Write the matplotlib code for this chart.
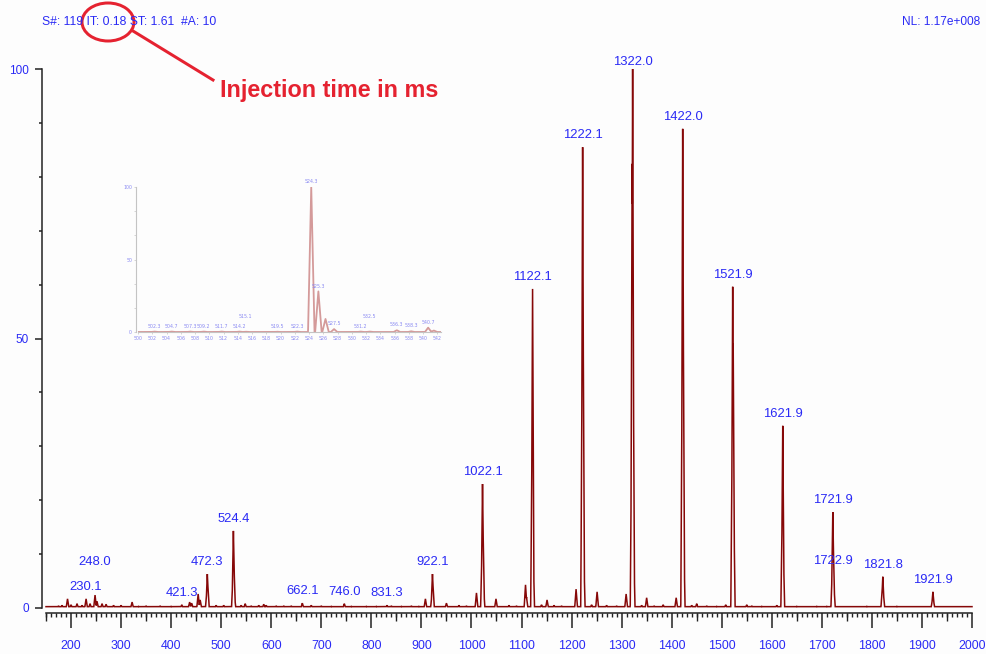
import numpy as np
import matplotlib
matplotlib.use("Agg")
import matplotlib.pyplot as plt
from matplotlib import font_manager
from matplotlib.patches import Ellipse
from matplotlib.lines import Line2D
from matplotlib.ticker import MultipleLocator, FixedLocator, NullFormatter

# ---------------- data ----------------
# centroid sticks (m/z, relative abundance %) of the full scan
peak_mz = [
    175, 182, 193, 200, 212, 222, 230.1, 238, 248.0, 252, 262, 270, 285, 300, 322, 335, 350, 378, 400,
    421.3, 437, 441, 454, 458, 471.3, 472.3, 473.3, 490, 505, 523.4, 524.4, 525.4, 526.4, 540, 548, 560,
    575, 585, 590, 610, 625, 640, 662.1, 680, 700, 720, 746.0, 760, 790, 810, 831.3, 840, 860, 880, 895,
    908, 921.1, 922.1, 923.1, 950, 975, 990, 1010, 1021.1, 1022.1, 1023.1, 1024.1, 1049, 1075, 1090,
    1108, 1110, 1121.1, 1122.1, 1123.1, 1140, 1151, 1165, 1180, 1209, 1221.1, 1222.1, 1223.1, 1224.1,
    1240, 1251, 1270, 1290, 1309, 1320.0, 1321.0, 1322.0, 1323.0, 1324.0, 1340, 1350, 1365, 1383,
    1409, 1421.0, 1422.0, 1423.0, 1424.0, 1440, 1450, 1470, 1490, 1508, 1520.9, 1521.9, 1522.9, 1523.9,
    1550, 1560, 1580, 1610, 1620.9, 1621.9, 1622.9, 1650, 1690, 1710, 1720.9, 1721.9, 1722.9, 1723.9,
    1760, 1790, 1820.8, 1821.8, 1822.8, 1850, 1920.9, 1921.9, 1922.9,
]
peak_int = [
    0.4, 0.5, 1.7, 0.6, 0.8, 0.5, 1.7, 0.8, 2.4, 1.2, 0.8, 0.7, 0.5, 0.5, 1.1, 0.3, 0.4, 0.4, 0.3,
    0.6, 1.1, 0.9, 2.6, 1.5, 3.0, 6.3, 4.3, 0.5, 0.5, 5.0, 14.3, 8.5, 2.5, 0.5, 0.8, 0.4,
    0.5, 0.7, 0.5, 0.4, 0.4, 0.4, 0.9, 0.5, 0.4, 0.3, 0.8, 0.3, 0.3, 0.3, 0.5, 0.4, 0.3, 0.4, 0.3,
    1.7, 2.5, 6.3, 4.3, 0.9, 0.5, 0.4, 2.8, 11.0, 23.0, 15.0, 4.0, 1.7, 0.5, 0.4,
    4.3, 2.0, 31.0, 59.2, 12.0, 0.6, 1.5, 0.5, 0.4, 3.5, 42.5, 85.5, 54.7, 12.0,
    0.6, 3.0, 0.5, 0.4, 2.6, 32.5, 82.4, 100.0, 53.0, 12.0, 0.5, 1.9, 0.4, 0.6,
    1.9, 44.0, 88.9, 58.0, 14.0, 0.5, 0.8, 0.4, 0.3, 0.6, 29.7, 59.6, 49.0, 20.8,
    0.6, 0.4, 0.3, 0.5, 18.0, 33.8, 12.0, 0.3, 0.3, 0.3, 7.4, 17.8, 12.0, 4.8,
    0.2, 0.3, 3.5, 5.8, 3.0, 0.3, 1.5, 3.0, 1.5,
]

# labelled peaks: text, m/z, abundance the label sits on
label_text = ["230.1", "248.0", "421.3", "472.3", "524.4", "662.1", "746.0", "831.3", "922.1",
              "1022.1", "1122.1", "1222.1", "1322.0", "1422.0", "1521.9", "1621.9", "1721.9",
              "1722.9", "1821.8", "1921.9"]
label_mz = [230.1, 248.0, 421.3, 472.3, 524.4, 662.1, 746.0, 831.3, 922.1, 1022.1, 1122.1, 1222.1,
            1322.0, 1422.0, 1521.9, 1621.9, 1721.9, 1722.9, 1821.8, 1921.9]
label_int = [1.7, 2.4, 0.6, 6.3, 14.3, 0.9, 0.8, 0.5, 6.3, 23.0, 59.2, 85.5, 100.0, 88.9, 59.6,
             33.8, 17.8, 12.0, 5.8, 3.0]

x_ticks = list(range(200, 2001, 100))
y_ticks = [0, 50, 100]

# zoomed scan around m/z 524
inset_mz = [502.3, 504.7, 507.3, 509.2, 511.7, 514.2, 515.1, 519.5, 522.3, 524.3, 525.3, 526.3,
            527.5, 531.2, 532.5, 536.3, 538.3, 540.7, 541.5]
inset_int = [0.3, 0.3, 0.3, 0.3, 0.3, 0.3, 0.2, 0.2, 0.3, 100.0, 28.0, 9.0, 2.0, 0.3, 0.3, 1.2,
             0.5, 3.0, 1.0]
inset_labels = ["502.3", "504.7", "507.3", "509.2", "511.7", "514.2", "515.1", "519.5", "522.3",
                "524.3", "525.3", None, "527.5", "531.2", "532.5", "536.3", "538.3", "540.7", None]

header_text = "S#: 119 IT: 0.18 ST: 1.61  #A: 10"
nl_text = "NL: 1.17e+008"
note_text = "Injection time in ms"

# ---------------- style ----------------
W, H = 987, 654
PT = 0.72  # points per pixel at 100 dpi
BLUE = "#2a2af5"
RED_NOTE = "#e52230"
LINE = "#860808"
BASE = 0.25

_installed = {f.name for f in font_manager.fontManager.ttflist}
if "Liberation Sans Narrow" in _installed:
    FONT, SCALE = ["Liberation Sans Narrow", "DejaVu Sans"], 1.0
else:
    FONT, SCALE = ["Liberation Sans", "DejaVu Sans"], 0.85


def profile(x, centres, heights, half_width, base):
    """Upper envelope of triangular peak shapes over a flat baseline."""
    y = np.full_like(x, base)
    for c, h in zip(centres, heights):
        tri = h * (1.0 - np.abs(x - c) / half_width)
        y = np.maximum(y, tri)
    return y


fig = plt.figure(figsize=(W / 100, H / 100), dpi=100)
fig.patch.set_facecolor("#fdfdfd")

# ---------------- main spectrum ----------------
ax = fig.add_axes([46 / W, 46 / H, 926 / W, 539 / H])
ax.set_facecolor("none")
ax.set_xlim(150, 2000)
ax.set_ylim(0, 100)

mz = np.union1d(np.arange(150, 2000.01, 0.25), peak_mz)
ax.plot(mz, profile(mz, peak_mz, peak_int, 2.8, BASE), color=LINE, lw=1.1, clip_on=False,
        solid_joinstyle="miter")

for s in ("top", "right"):
    ax.spines[s].set_visible(False)
ax.spines["left"].set_position(("outward", 4 * PT))
ax.spines["left"].set_bounds(0, 100)
ax.spines["bottom"].set_position(("outward", 5 * PT))
ax.spines["bottom"].set_bounds(150, 2000)
for s in ("left", "bottom"):
    ax.spines[s].set_color("#222222")
    ax.spines[s].set_linewidth(1.1)

ax.yaxis.set_major_locator(FixedLocator(y_ticks))
ax.yaxis.set_minor_locator(MultipleLocator(10))
ax.xaxis.set_major_locator(FixedLocator(x_ticks))
ax.xaxis.set_minor_locator(MultipleLocator(10))
ax.tick_params(axis="y", which="major", length=7 * PT, width=1.1, color="#222222",
               labelcolor=BLUE, labelsize=10 * SCALE, pad=4.3)
ax.tick_params(axis="y", which="minor", length=3 * PT, width=1.1, color="#222222")
ax.tick_params(axis="x", which="major", length=15 * PT, width=1.1, color="#222222",
               labelcolor=BLUE, labelsize=10.5 * SCALE, pad=8.5)
ax.tick_params(axis="x", which="minor", length=4 * PT, width=1.0, color="#222222")
for lab in ax.get_xticklabels() + ax.get_yticklabels():
    lab.set_family(FONT)

# medium ticks at the odd fifties
mid = ax.secondary_xaxis(-5 / 539)
mid.spines["bottom"].set_visible(False)
mid.set_xticks(list(range(150, 2000, 100)))
mid.xaxis.set_major_formatter(NullFormatter())
mid.tick_params(axis="x", which="major", length=8 * PT, width=1.0, color="#222222")

# peak annotations
gap = {"248.0": 30, "1322.0": 4, "1722.9": -21}
for t, x, y in zip(label_text, label_mz, label_int):
    ax.annotate(t, (x, y), xytext=(0, gap.get(t, 9) * PT), textcoords="offset points",
                ha="center", va="baseline", color=BLUE, fontsize=11 * SCALE, family=FONT,
                annotation_clip=False)

# ---------------- inset (zoom on m/z 524) ----------------
INK = "#8a8af2"
PINK = "#d49a9a"
axi = fig.add_axes([138 / W, (H - 332) / H, 303 / W, 145 / H])
axi.set_facecolor("none")
axi.set_xlim(500, 542.5)
axi.set_ylim(0, 100)
zx = np.union1d(np.arange(500, 542.5, 0.02), inset_mz)
axi.plot(zx, profile(zx, inset_mz, inset_int, 0.45, 0.0), color=PINK, lw=1.3)
for s in ("top", "right"):
    axi.spines[s].set_visible(False)
axi.spines["left"].set_position(("outward", 2 * PT))
axi.spines["left"].set_bounds(0, 100)
for s in ("left", "bottom"):
    axi.spines[s].set_color("#c4c4c4")
    axi.spines[s].set_linewidth(0.8)
axi.set_yticks([0, 50, 100])
axi.yaxis.set_minor_locator(MultipleLocator(100 / 6))
axi.set_xticks(list(range(500, 543, 2)))
axi.tick_params(which="both", length=1.5, width=0.5, color="#c4c4c4", labelsize=3.4,
                labelcolor=INK, pad=1.2)
for t, x, y in zip(inset_labels, inset_mz, inset_int):
    if t is None:
        continue
    dy = 9 if t in ("515.1", "532.5") else 2
    axi.annotate(t, (x, y), xytext=(0, dy), textcoords="offset points", ha="center",
                 va="bottom", fontsize=3.4, color=INK, annotation_clip=False)

# ---------------- header and call-out (pixel overlay) ----------------
ov = fig.add_axes([0, 0, 1, 1])
ov.set_xlim(0, W)
ov.set_ylim(H, 0)
ov.axis("off")
ov.set_zorder(5)
ov.text(42, 25, header_text, color=BLUE, fontsize=10.3 * SCALE, family=FONT, va="baseline",
        ha="left")
ov.text(980, 25, nl_text, color=BLUE, fontsize=10.1 * SCALE, family=FONT, va="baseline",
        ha="right")
ov.add_patch(Ellipse((108, 22), 52, 38, fill=False, edgecolor=RED_NOTE, lw=3 * PT))
ov.add_line(Line2D([133, 213], [31, 80], color=RED_NOTE, lw=3 * PT))
ov.text(220, 97, note_text, color=RED_NOTE, fontsize=16.8, fontweight="bold",
        family=["Liberation Sans", "DejaVu Sans"], va="baseline", ha="left")

fig.savefig("out.png", dpi=100, facecolor=fig.get_facecolor())
